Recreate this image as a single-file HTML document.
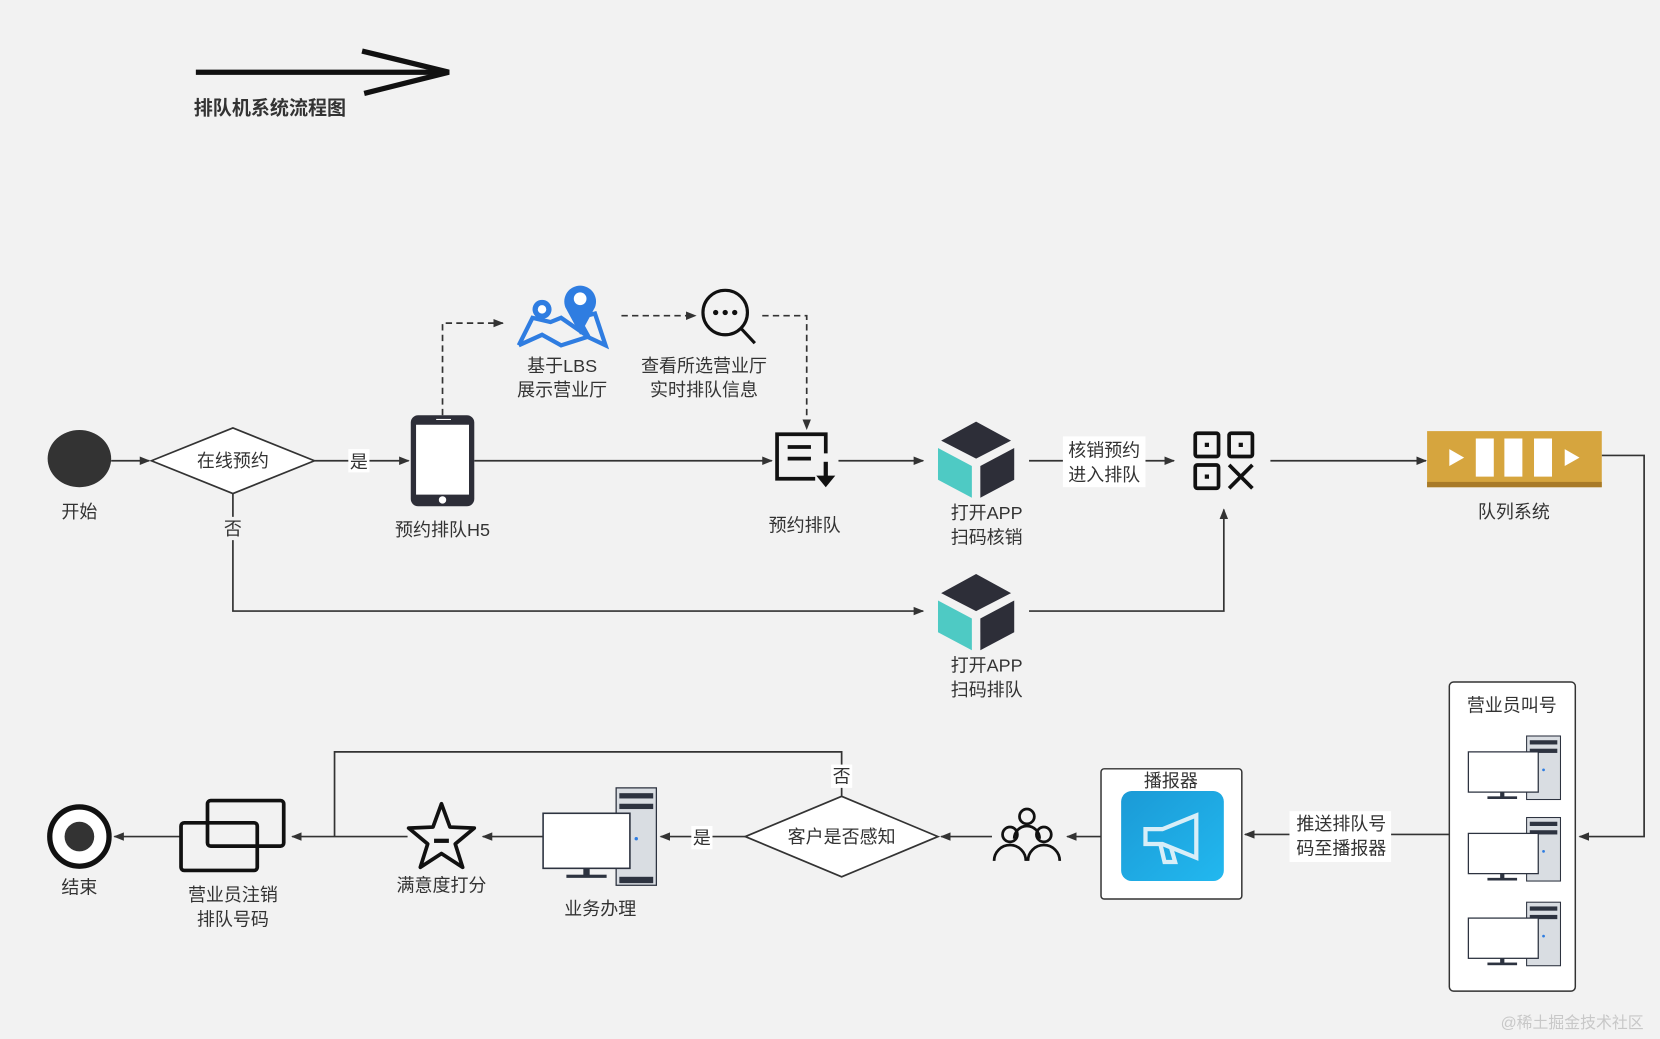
<!DOCTYPE html>
<html><head><meta charset="utf-8"><style>
html,body{margin:0;padding:0;background:#f2f2f2;}
svg{display:block}
text{font-family:"Liberation Sans","Noto Sans CJK SC",sans-serif;fill:#333;font-size:17px;text-anchor:middle}
</style></head><body>
<svg width="1660" height="1039" viewBox="0 0 1568 981" xmlns="http://www.w3.org/2000/svg">
<defs>
<marker id="a" markerWidth="10" markerHeight="10" refX="9" refY="5" orient="auto" markerUnits="userSpaceOnUse"><path d="M0,1 L10,5 L0,9 Z" fill="#333"/></marker>
<linearGradient id="bl" x1="0" y1="0" x2="1" y2="1"><stop offset="0" stop-color="#1b9ad6"/><stop offset="1" stop-color="#22b8ef"/></linearGradient>
</defs>
<rect width="1568" height="981" fill="#f2f2f2"/>
<line x1="185" y1="68" x2="422" y2="68" stroke="#111" stroke-width="5"/>
<polyline points="342,48 424,68 344,88" fill="none" stroke="#111" stroke-width="5"/>
<text x="183" y="108" style="font-weight:bold;font-size:18px;text-anchor:start">排队机系统流程图</text>

<g stroke="#333" stroke-width="1.6" fill="none">
<line x1="105" y1="435" x2="141" y2="435" marker-end="url(#a)"/>
<line x1="297" y1="435" x2="386" y2="435" marker-end="url(#a)"/>
<polyline points="418,392 418,305 475,305" stroke-dasharray="6,4" marker-end="url(#a)"/>
<line x1="587" y1="298" x2="657" y2="298" stroke-dasharray="6,4" marker-end="url(#a)"/>
<polyline points="720,298 762,298 762,405" stroke-dasharray="6,4" marker-end="url(#a)"/>
<line x1="448" y1="435" x2="729" y2="435" marker-end="url(#a)"/>
<line x1="792" y1="435" x2="872" y2="435" marker-end="url(#a)"/>
<line x1="972" y1="435" x2="1109" y2="435" marker-end="url(#a)"/>
<line x1="1200" y1="435" x2="1347" y2="435" marker-end="url(#a)"/>
<polyline points="1513,430 1553,430 1553,790 1492,790" marker-end="url(#a)"/>
<polyline points="220,466 220,577 872,577" marker-end="url(#a)"/>
<polyline points="972,577 1156,577 1156,481" marker-end="url(#a)"/>
<line x1="1369" y1="788" x2="1176" y2="788" marker-end="url(#a)"/>
<line x1="1040" y1="790" x2="1008" y2="790" marker-end="url(#a)"/>
<line x1="937" y1="790" x2="889" y2="790" marker-end="url(#a)"/>
<line x1="704" y1="790" x2="624" y2="790" marker-end="url(#a)"/>
<line x1="513" y1="790" x2="456" y2="790" marker-end="url(#a)"/>
<line x1="385" y1="790" x2="276" y2="790" marker-end="url(#a)"/>
<polyline points="795,752 795,710 316,710 316,790"/>
<line x1="170" y1="790" x2="108" y2="790" marker-end="url(#a)"/>
</g>

<ellipse cx="75" cy="433" rx="30" ry="27" fill="#333"/>
<text x="75" y="489">开始</text>
<polygon points="143,435 220,404 297,435 220,466" fill="#fff" stroke="#333" stroke-width="1.6"/>
<text x="220" y="441">在线预约</text>
<rect x="329" y="424" width="20" height="22" fill="#fff"/><text x="339" y="442">是</text>
<rect x="210" y="488" width="20" height="22" fill="#f2f2f2"/><text x="220" y="505">否</text>

<rect x="388" y="392" width="60" height="86" rx="7" fill="#2d2e38"/>
<rect x="393" y="401" width="50" height="66" fill="#fff"/>
<circle cx="418" cy="472" r="3.5" fill="#fff"/>
<line x1="412" y1="396" x2="426" y2="396" stroke="#fff" stroke-width="1"/>
<text x="418" y="506">预约排队H5</text>

<g fill="none" stroke="#2f7de1" stroke-width="4">
<polyline points="490,326 503,300 520,304 530,300 556,318 546,300 562,296 572,326 555,318 530,326 512,316 490,326"/>
</g>
<circle cx="512" cy="292" r="9" fill="#2f7de1"/><circle cx="512" cy="292" r="4" fill="#fff"/>
<path d="M548,316 L534,290 A15,15 0 1 1 562,290 Z" fill="#2f7de1"/><circle cx="548" cy="282" r="6" fill="#fff"/>
<text x="531" y="351">基于LBS</text><text x="531" y="374">展示营业厅</text>

<circle cx="685" cy="295" r="21" fill="none" stroke="#111" stroke-width="3"/>
<line x1="700" y1="310" x2="713" y2="324" stroke="#111" stroke-width="3"/>
<circle cx="676" cy="295" r="2.5" fill="#111"/><circle cx="685" cy="295" r="2.5" fill="#111"/><circle cx="694" cy="295" r="2.5" fill="#111"/>
<text x="665" y="351">查看所选营业厅</text><text x="665" y="374">实时排队信息</text>

<path d="M780,428 L780,410 L734,410 L734,452 L770,452" fill="none" stroke="#111" stroke-width="3.5"/>
<line x1="744" y1="422" x2="766" y2="422" stroke="#111" stroke-width="3.5"/>
<line x1="744" y1="433" x2="766" y2="433" stroke="#111" stroke-width="3.5"/>
<line x1="780" y1="436" x2="780" y2="450" stroke="#111" stroke-width="4"/>
<polygon points="771,449 789,449 780,460" fill="#111"/>
<text x="760" y="502">预约排队</text>

<g>
<polygon points="922,398 955,416 922,433 889,416" fill="#2d2e38"/>
<polygon points="886,423 918,440 918,470 886,453" fill="#4ecac4"/>
<polygon points="926,440 958,423 958,453 926,470" fill="#2d2e38"/>
</g>
<text x="932" y="490">打开APP</text><text x="932" y="513">扫码核销</text>
<g transform="translate(0,144)">
<polygon points="922,398 955,416 922,433 889,416" fill="#2d2e38"/>
<polygon points="886,423 918,440 918,470 886,453" fill="#4ecac4"/>
<polygon points="926,440 958,423 958,453 926,470" fill="#2d2e38"/>
</g>
<text x="932" y="634">打开APP</text><text x="932" y="657">扫码排队</text>

<rect x="1004" y="412" width="78" height="48" fill="#fff"/>
<text x="1043" y="431">核销预约</text><text x="1043" y="454">进入排队</text>

<g fill="none" stroke="#111" stroke-width="3.5">
<rect x="1129" y="409" width="22" height="22" rx="2"/>
<rect x="1161" y="409" width="22" height="22" rx="2"/>
<rect x="1129" y="439" width="22" height="22" rx="2"/>
<line x1="1161" y1="439" x2="1183" y2="461"/><line x1="1183" y1="439" x2="1161" y2="461"/>
</g>
<rect x="1138" y="418" width="4" height="4" fill="#111"/><rect x="1170" y="418" width="4" height="4" fill="#111"/><rect x="1138" y="448" width="4" height="4" fill="#111"/>

<rect x="1348" y="407" width="165" height="53" fill="#d6a53e"/>
<rect x="1348" y="455" width="165" height="5" fill="#a87a28"/>
<polygon points="1369,424 1383,432 1369,440" fill="#fff"/>
<rect x="1394" y="414" width="17" height="36" fill="#fff"/>
<rect x="1421" y="414" width="17" height="36" fill="#fff"/>
<rect x="1449" y="414" width="17" height="36" fill="#fff"/>
<polygon points="1478,424 1492,432 1478,440" fill="#fff"/>
<text x="1430" y="489">队列系统</text>

<rect x="1369" y="644" width="119" height="292" rx="4" fill="#fff" stroke="#333" stroke-width="1.4"/>
<text x="1428" y="672">营业员叫号</text>
<g id="pc">
<rect x="1442" y="695" width="32" height="60" fill="#d9dde2" stroke="#2d3340" stroke-width="1"/>
<rect x="1445" y="699" width="26" height="4" fill="#2d3340"/><rect x="1445" y="707" width="26" height="4" fill="#2d3340"/>
<rect x="1387" y="710" width="66" height="38" fill="#fff" stroke="#2d3340" stroke-width="1.2"/>
<rect x="1417" y="748" width="4" height="5" fill="#2d3340"/><rect x="1405" y="752" width="28" height="2.5" fill="#2d3340"/>
<circle cx="1458" cy="727" r="1.3" fill="#2f7de1"/>
</g>
<use href="#pc" y="77"/><use href="#pc" y="157"/>

<rect x="1218" y="766" width="96" height="48" fill="#fff"/>
<text x="1267" y="784">推送排队号</text><text x="1267" y="807">码至播报器</text>

<rect x="1040" y="726" width="133" height="123" rx="3" fill="#fff" stroke="#333" stroke-width="1.4"/>
<text x="1106" y="743">播报器</text>
<rect x="1059" y="747" width="97" height="85" rx="10" fill="url(#bl)"/>
<g fill="none" stroke="#d8eef8" stroke-width="4">
<path d="M1082,783 L1098,783 L1130,770 L1130,810 L1098,797 L1082,797 Z"/>
<path d="M1096,797 L1100,814 L1110,814 L1106,800"/>
</g>

<g fill="none" stroke="#111" stroke-width="2.6">
<circle cx="970" cy="771" r="7"/>
<circle cx="954" cy="788" r="7"/><circle cx="986" cy="788" r="7"/>
<path d="M958,792 A12,12 0 0 1 982,792"/>
<path d="M939,813 A15,15 0 0 1 969,813"/><path d="M971,813 A15,15 0 0 1 1001,813"/>
</g>

<polygon points="704,790 795,752 886,790 795,828" fill="#fff" stroke="#333" stroke-width="1.6"/>
<text x="795" y="796">客户是否感知</text>
<rect x="653" y="780" width="20" height="22" fill="#fff"/><text x="663" y="797">是</text>
<rect x="785" y="722" width="20" height="22" fill="#fff"/><text x="795" y="739">否</text>

<rect x="582" y="744" width="38" height="92" fill="#d9dde2" stroke="#2d3340" stroke-width="1.2"/>
<rect x="585" y="749" width="32" height="5" fill="#2d3340"/><rect x="585" y="759" width="32" height="5" fill="#2d3340"/>
<rect x="585" y="828" width="32" height="6" fill="#2d3340"/>
<rect x="513" y="768" width="82" height="52" fill="#fff" stroke="#2d3340" stroke-width="1.5"/>
<rect x="551" y="820" width="6" height="7" fill="#2d3340"/><rect x="535" y="826" width="38" height="3" fill="#2d3340"/>
<circle cx="601" cy="792" r="1.6" fill="#2f7de1"/>
<text x="567" y="864">业务办理</text>

<polygon points="417,759 425,781 448,782 430,797 437,819 417,806 397,819 404,797 386,782 409,781" fill="none" stroke="#111" stroke-width="3.5" stroke-linejoin="round"/>
<rect x="410" y="792" width="14" height="4" fill="#111"/>
<text x="417" y="842">满意度打分</text>

<rect x="196" y="756" width="72" height="43" rx="3" fill="none" stroke="#111" stroke-width="3.5"/>
<rect x="171" y="777" width="72" height="45" rx="3" fill="none" stroke="#111" stroke-width="3.5"/>
<text x="220" y="851">营业员注销</text><text x="220" y="874">排队号码</text>

<circle cx="75" cy="790" r="28" fill="#fff" stroke="#111" stroke-width="5"/>
<circle cx="75" cy="790" r="14" fill="#333"/>
<text x="75" y="844">结束</text>

<text x="1485" y="971" style="fill:#c8c8c8;font-size:15px">@稀土掘金技术社区</text>
</svg>
</body></html>
